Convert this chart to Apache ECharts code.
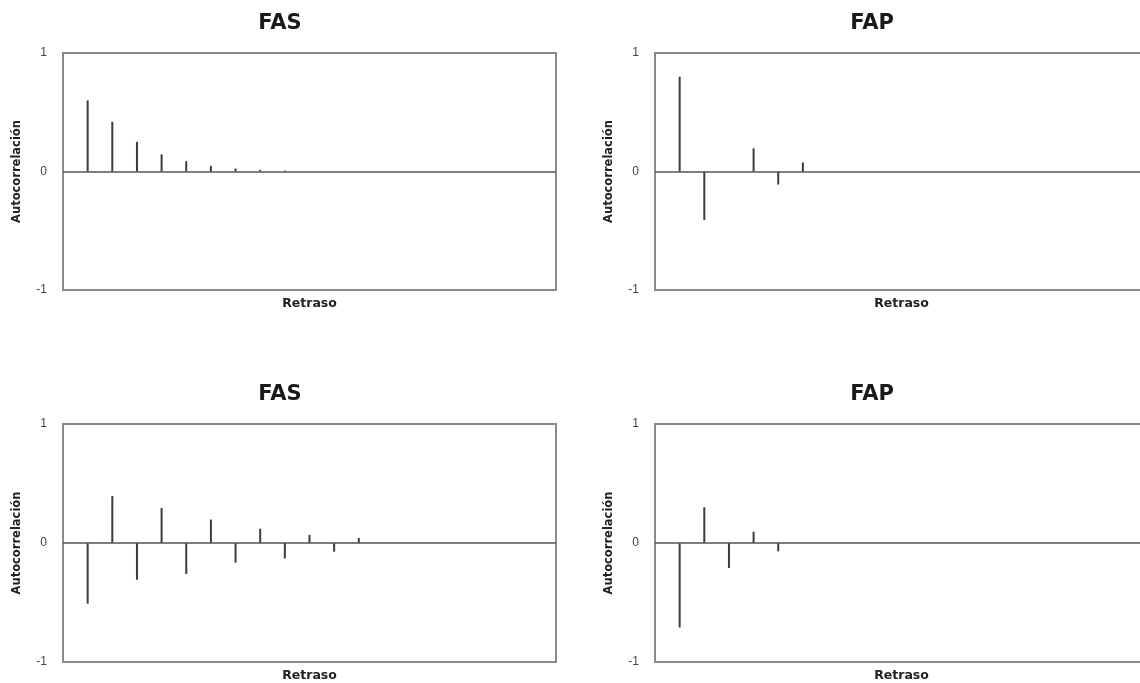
<!DOCTYPE html>
<html>
<head>
<meta charset="utf-8">
<script src="https://cdn.jsdelivr.net/npm/echarts@6/dist/echarts.min.js"></script>
<style>
html,body{margin:0;padding:0;background:#fff;}
#chart{width:1140px;height:683px;}
</style>
</head>
<body>
<div id="chart"></div>
<script>
// Panel titles
const panelTitles = ['FAS', 'FAP', 'FAS', 'FAP'];
const xAxisName = 'Retraso';
const yAxisName = 'Autocorrelación';
const yTickLabels = ['-1', '0', '1'];

// Lags (retrasos)
const lagsFasTop = [1, 2, 3, 4, 5, 6, 7, 8, 9];
const lagsFapTop = [1, 2, 3, 4, 5, 6];
const lagsFasBottom = [1, 2, 3, 4, 5, 6, 7, 8, 9, 10, 11, 12];
const lagsFapBottom = [1, 2, 3, 4, 5];

// Autocorrelation values
const fasTop = [0.60, 0.42, 0.25, 0.145, 0.087, 0.048, 0.025, 0.014, 0.008];
const fapTop = [0.80, -0.41, 0, 0.195, -0.11, 0.076];
const fasBottom = [-0.51, 0.394, -0.309, 0.295, -0.26, 0.197, -0.165, 0.12, -0.13, 0.068, -0.073, 0.042];
const fapBottom = [-0.71, 0.30, -0.21, 0.095, -0.07];

const panels = [
  {lags: lagsFasTop, vals: fasTop},
  {lags: lagsFapTop, vals: fapTop},
  {lags: lagsFasBottom, vals: fasBottom},
  {lags: lagsFapBottom, vals: fapBottom}
];

const gridPos = [
  {left: 63, top: 53, width: 493, height: 237},
  {left: 655, top: 53, width: 493, height: 237},
  {left: 63, top: 424, width: 493, height: 238},
  {left: 655, top: 424, width: 493, height: 238}
];
const titlePos = [
  {x: 280, y: 13},
  {x: 872, y: 13},
  {x: 280, y: 384},
  {x: 872, y: 384}
];

const chart = echarts.init(document.getElementById('chart'), null, {renderer: 'canvas'});

const option = {
  backgroundColor: '#fff',
  animation: false,
  title: panelTitles.map((t, i) => ({
    text: t,
    left: titlePos[i].x,
    top: titlePos[i].y,
    textAlign: 'center',
    padding: 0,
    textStyle: {fontFamily: 'DejaVu Sans', fontWeight: 'bold', fontSize: 21, color: '#1a1a1a'}
  })),
  grid: gridPos.map(g => Object.assign({
    show: true,
    borderColor: '#8a8a8a',
    borderWidth: 2,
    backgroundColor: 'transparent',
    containLabel: false,
    outerBoundsMode: 'none'
  }, g)),
  xAxis: gridPos.map((g, i) => ({
    type: 'value',
    gridIndex: i,
    min: 0,
    max: 20,
    name: xAxisName,
    nameLocation: 'middle',
    nameGap: 7,
    nameTextStyle: {fontFamily: 'DejaVu Sans', fontWeight: 'bold', fontSize: 12.5, color: '#222'},
    axisLine: {show: false},
    axisTick: {show: false},
    axisLabel: {show: false},
    splitLine: {show: false}
  })),
  yAxis: gridPos.map((g, i) => ({
    type: 'value',
    gridIndex: i,
    min: -1,
    max: 1,
    interval: 1,
    name: yAxisName,
    nameLocation: 'middle',
    nameRotate: 90,
    nameGap: 40,
    nameTextStyle: {fontFamily: 'DejaVu Sans', fontWeight: 'bold', fontSize: 11.5, color: '#222'},
    axisLine: {show: false},
    axisTick: {show: false},
    splitLine: {show: false},
    axisLabel: {
      margin: 16,
      fontFamily: 'Liberation Sans',
      fontSize: 12,
      color: '#444',
      formatter: v => yTickLabels[Math.round(v) + 1]
    }
  })),
  series: panels.map((p, i) => ({
    type: 'bar',
    xAxisIndex: i,
    yAxisIndex: i,
    barWidth: 2,
    itemStyle: {color: '#3c3c3c'},
    data: p.lags.map((l, k) => [l, p.vals[k]]),
    markLine: {
      silent: true,
      symbol: ['none', 'none'],
      label: {show: false},
      lineStyle: {color: '#555', width: 1.5, type: 'solid'},
      data: [{yAxis: 0}]
    }
  }))
};

chart.setOption(option);
</script>
</body>
</html>
